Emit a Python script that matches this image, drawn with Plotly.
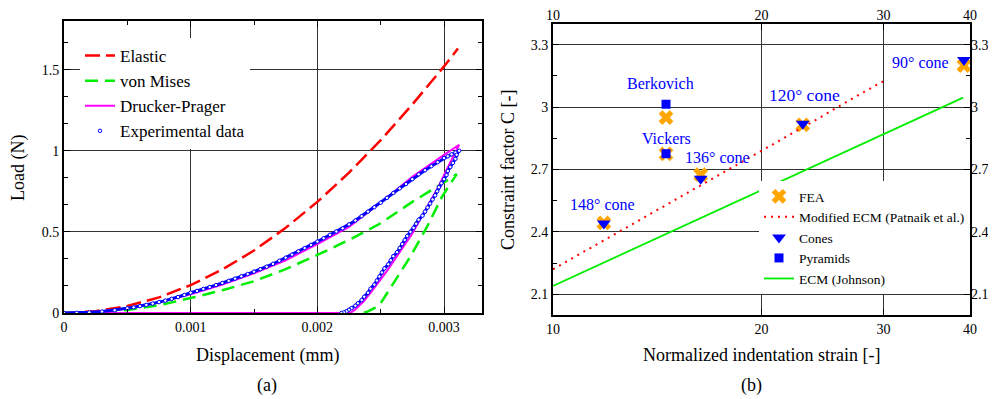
import math
import plotly.graph_objects as go

# ---------------- Panel (a): load-displacement ----------------
elastic_x = [0, 0.00025, 0.0005, 0.00075, 0.001, 0.00125, 0.0015, 0.00175, 0.002, 0.00225, 0.0025, 0.00275, 0.003, 0.00311]
elastic_y = [0, 0.011, 0.043, 0.096, 0.172, 0.268, 0.385, 0.525, 0.685, 0.865, 1.065, 1.285, 1.52, 1.63]

vm_x = [0, 0.00025, 0.0005, 0.00075, 0.001, 0.00125, 0.0015, 0.00175, 0.002, 0.00225, 0.0025, 0.00275, 0.003, 0.0031,
        0.002985, 0.002867, 0.002735, 0.0026, 0.0025, 0.00245, 0.00239, 0.00236]
vm_y = [0, 0.004, 0.018, 0.048, 0.092, 0.14, 0.196, 0.27, 0.358, 0.45, 0.553, 0.685, 0.805, 0.856,
        0.718, 0.533, 0.348, 0.183, 0.06, 0.03, 0.006, 0.0]

dp_x = [0, 0.00025, 0.0005, 0.00075, 0.001, 0.00125, 0.0015, 0.00175, 0.002, 0.00225, 0.0025, 0.00275, 0.003, 0.00312,
        0.00305, 0.00295, 0.00285, 0.00275, 0.00265, 0.00255, 0.00245, 0.00237, 0.0023, 0.00226, 0.0]
dp_y = [0, 0.006, 0.027, 0.065, 0.115, 0.175, 0.245, 0.325, 0.425, 0.53, 0.68, 0.84, 0.975, 1.037,
        0.93, 0.77, 0.63, 0.49, 0.375, 0.26, 0.155, 0.075, 0.022, 0.0, 0.0]

exp_x = [0, 0.0001, 0.0002, 0.0003, 0.0004, 0.0005, 0.00055, 0.0006, 0.00065, 0.0007, 0.00075, 0.0008, 0.00085, 0.0009, 0.00095,
         0.001, 0.00105, 0.0011, 0.00115, 0.0012, 0.00125, 0.0013, 0.00135, 0.0014, 0.00145, 0.0015, 0.00155,
         0.0016, 0.00165, 0.0017, 0.00175, 0.0018, 0.00185, 0.0019, 0.00195,
         0.002, 0.00205, 0.0021, 0.00215, 0.0022, 0.00225, 0.0023, 0.00235, 0.0024, 0.00245,
         0.0025, 0.00255, 0.0026, 0.00265, 0.0027, 0.00275, 0.0028, 0.00285, 0.0029, 0.00295,
         0.003, 0.00303, 0.00306, 0.00309, 0.00312,
         0.0031, 0.00309, 0.00307, 0.00305, 0.00303, 0.00302, 0.003, 0.00298, 0.00296, 0.002946,
         0.00293, 0.00291, 0.00289, 0.00287, 0.00285, 0.00283, 0.0028, 0.00278, 0.00276,
         0.002735, 0.00271, 0.00269, 0.00267, 0.00265, 0.00263, 0.0026, 0.00258, 0.00256, 0.00253,
         0.00251, 0.00249, 0.00247, 0.00245, 0.00242, 0.0024, 0.00237, 0.00235, 0.00232, 0.0023,
         0.00227, 0.00225, 0.00223, 0.00221, 0.00219]
exp_y = [0, 0.001, 0.004, 0.009, 0.017, 0.029, 0.035, 0.042, 0.05, 0.058, 0.067, 0.076, 0.087, 0.098, 0.111,
         0.125, 0.136, 0.148, 0.16, 0.172, 0.185, 0.198, 0.212, 0.226, 0.24, 0.255, 0.27,
         0.285, 0.303, 0.322, 0.341, 0.36, 0.38, 0.40, 0.42,
         0.44, 0.461, 0.482, 0.502, 0.522, 0.546, 0.57, 0.597, 0.625, 0.652,
         0.68, 0.71, 0.74, 0.768, 0.795, 0.825, 0.855, 0.88, 0.905, 0.93,
         0.955, 0.966, 0.978, 0.989, 1.0,
         0.975, 0.95, 0.925, 0.90, 0.875, 0.85, 0.825, 0.80, 0.775, 0.75,
         0.725, 0.70, 0.675, 0.65, 0.625, 0.60, 0.575, 0.55, 0.525,
         0.50, 0.475, 0.45, 0.425, 0.40, 0.375, 0.35, 0.325, 0.30, 0.275,
         0.25, 0.225, 0.20, 0.175, 0.15, 0.125, 0.10, 0.08, 0.06, 0.045,
         0.03, 0.02, 0.01, 0.004, 0.0]

x_a_ticks = [0, 0.001, 0.002, 0.003]
x_a_labels = ["0", "0.001", "0.002", "0.003"]
y_a_ticks = [0, 0.5, 1, 1.5]
y_a_labels = ["0", "0.5", "1", "1.5"]

# ---------------- Panel (b): constraint factor ----------------
fea_x = [11.84, 14.56, 14.56, 16.34, 22.94, 39.2]
fea_y = [2.443, 2.95, 2.775, 2.675, 2.915, 3.20]
cone_x = [11.84, 16.34, 22.94, 39.2]
cone_y = [2.44, 2.656, 2.92, 3.227]
pyr_x = [14.56, 14.56]
pyr_y = [3.014, 2.776]
patnaik_x = [10, 12, 15, 18, 21, 24, 27, 30]
patnaik_y = [2.22, 2.37, 2.55, 2.70, 2.83, 2.94, 3.04, 3.125]
johnson_x = [10, 20, 30, 39.1]
johnson_y = [2.14, 2.60, 2.87, 3.046]

labels_text = ["Berkovich", "Vickers", "136° cone", "148° cone", "120° cone", "90° cone"]
labels_x = [14.29, 14.56, 17.25, 11.79, 23.09, 33.98]
labels_y = [3.115, 2.849, 2.76, 2.533, 3.059, 3.216]
labels_size = [16, 16, 16, 16, 17.5, 16]

x_b_ticks = [10, 20, 30, 40]
y_b_ticks = [2.1, 2.4, 2.7, 3.0, 3.3]
y_b_labels = ["2.1", "2.4", "2.7", "3", "3.3"]

SERIF = "Liberation Serif"
GRID = "#333333"

# the page body has an 8px margin: size the figure so it fits the 996x399 window
W, H, OFF = 996, 399, 8
FW, FH = W - OFF, H - OFF


def px_x(p):
    return (p - OFF) / FW


def px_y(p):
    return 1 - (p - OFF) / FH


fig = go.Figure()

# panel (a)
fig.add_trace(go.Scatter(x=elastic_x, y=elastic_y, mode="lines", name="Elastic",
                         line=dict(color="#ff0000", width=2.5, dash="15px,6px"),
                         xaxis="x", yaxis="y", legend="legend"))
fig.add_trace(go.Scatter(x=vm_x, y=vm_y, mode="lines", name="von Mises",
                         line=dict(color="#00ee00", width=2.5, dash="13px,7px"),
                         xaxis="x", yaxis="y", legend="legend"))
fig.add_trace(go.Scatter(x=dp_x, y=dp_y, mode="lines", name="Drucker-Prager",
                         line=dict(color="#ff00ff", width=2),
                         xaxis="x", yaxis="y", legend="legend"))
fig.add_trace(go.Scatter(x=exp_x, y=exp_y, mode="lines", showlegend=False,
                         line=dict(color="#0000ff", width=3),
                         xaxis="x", yaxis="y", hoverinfo="skip"))
fig.add_trace(go.Scatter(x=exp_x, y=exp_y, mode="markers", name="Experimental data",
                         marker=dict(symbol="circle", size=3.5, color="white",
                                     line=dict(color="#0000ff", width=1)),
                         xaxis="x", yaxis="y", legend="legend"))

# panel (b)
fig.add_trace(go.Scatter(x=fea_x, y=fea_y, mode="markers", name="FEA",
                         marker=dict(symbol="x", size=13, color="#ffa500"),
                         xaxis="x2", yaxis="y2", legend="legend2"))
fig.add_trace(go.Scatter(x=patnaik_x, y=patnaik_y, mode="lines", name="Modified ECM (Patnaik et al.)",
                         line=dict(color="#ff0000", width=2, dash="2px,5px"),
                         xaxis="x2", yaxis="y2", legend="legend2"))
fig.add_trace(go.Scatter(x=cone_x, y=cone_y, mode="markers", name="Cones",
                         marker=dict(symbol="triangle-down", size=12, color="#0000ff"),
                         xaxis="x2", yaxis="y2", legend="legend2"))
fig.add_trace(go.Scatter(x=pyr_x, y=pyr_y, mode="markers", name="Pyramids",
                         marker=dict(symbol="square", size=9, color="#0000ff"),
                         xaxis="x2", yaxis="y2", legend="legend2"))
fig.add_trace(go.Scatter(x=johnson_x, y=johnson_y, mode="lines", name="ECM (Johnson)",
                         line=dict(color="#00ee00", width=1.8),
                         xaxis="x2", yaxis="y2", legend="legend2"))
# dummy trace for mirrored tick-label axes
fig.add_trace(go.Scatter(x=[10], y=[2.0], mode="markers", marker=dict(opacity=0),
                         showlegend=False, hoverinfo="skip", xaxis="x3", yaxis="y3"))

tickfont = dict(family=SERIF, size=14, color="black")
common = dict(showline=True, linewidth=2, linecolor="black", mirror="ticks",
              ticks="inside", ticklen=6, tickcolor="black", zeroline=False,
              showgrid=True, gridcolor=GRID, gridwidth=1, tickfont=tickfont,
              automargin=False)

fig.update_layout(
    width=FW, height=FH,
    margin=dict(l=0, r=0, t=0, b=0, autoexpand=False),
    paper_bgcolor="white", plot_bgcolor="white",
    font=dict(family=SERIF, color="black"),
    xaxis=dict(domain=[px_x(64), px_x(482)], range=[0, 0.0033], anchor="y",
               tickvals=x_a_ticks, ticktext=x_a_labels,
               minor=dict(dtick=0.0005, tick0=0, ticks="inside", ticklen=4, tickcolor="black", showgrid=False),
               **common),
    yaxis=dict(domain=[px_y(313), px_y(21)], range=[0, 1.8], anchor="x",
               tickvals=y_a_ticks, ticktext=y_a_labels,
               minor=dict(dtick=0.5 / 3, tick0=0, ticks="inside", ticklen=4, tickcolor="black", showgrid=False),
               **common),
    xaxis2=dict(domain=[px_x(553), px_x(970)], type="log", range=[1, math.log10(40)], anchor="y2",
                tickvals=x_b_ticks, ticktext=[str(v) for v in x_b_ticks],
                **common),
    yaxis2=dict(domain=[px_y(315), px_y(24)], range=[2.0, 3.4], anchor="x2",
                tickvals=y_b_ticks, ticktext=y_b_labels,
                minor=dict(dtick=0.15, tick0=2.1, ticks="inside", ticklen=4, tickcolor="black", showgrid=False),
                **common),
    xaxis3=dict(overlaying="x2", side="top", type="log", range=[1, math.log10(40)], anchor="y3",
                tickvals=x_b_ticks, ticktext=[str(v) for v in x_b_ticks], showgrid=False,
                showline=False, ticks="", zeroline=False, tickfont=tickfont, automargin=False),
    yaxis3=dict(overlaying="y2", side="right", range=[2.0, 3.4], anchor="x3",
                tickvals=y_b_ticks, ticktext=y_b_labels, showgrid=False,
                showline=False, ticks="", zeroline=False, tickfont=tickfont, automargin=False),
    legend=dict(x=px_x(80), y=px_y(38), xanchor="left", yanchor="top", bgcolor="white",
                borderwidth=0, font=dict(family=SERIF, size=17, color="black")),
    legend2=dict(x=px_x(759), y=px_y(294), xanchor="left", yanchor="bottom", bgcolor="white",
                 borderwidth=0, font=dict(family=SERIF, size=13.5, color="black")),
    showlegend=True,
)

annotations = []
for t, lx, ly, s in zip(labels_text, labels_x, labels_y, labels_size):
    annotations.append(dict(x=math.log10(lx), y=ly, xref="x2", yref="y2", text=t, showarrow=False,
                            font=dict(family=SERIF, size=s, color="#0000ff"), xanchor="center", yanchor="middle"))

titles = [
    ("Displacement (mm)", 267, 355, 0),
    ("(a)", 267, 385, 0),
    ("Load (N)", 19, 168, -90),
    ("Normalized indentation strain [-]", 761.7, 355, 0),
    ("(b)", 751.7, 385, 0),
    ("Constraint factor C [-]", 508, 170, -90),
]
for t, px, py, ang in titles:
    annotations.append(dict(x=px_x(px), y=px_y(py), xref="paper", yref="paper", text=t, showarrow=False,
                            textangle=ang, font=dict(family=SERIF, size=18, color="black"),
                            xanchor="center", yanchor="middle"))
fig.update_layout(annotations=annotations)

fig.write_html("out.html")
